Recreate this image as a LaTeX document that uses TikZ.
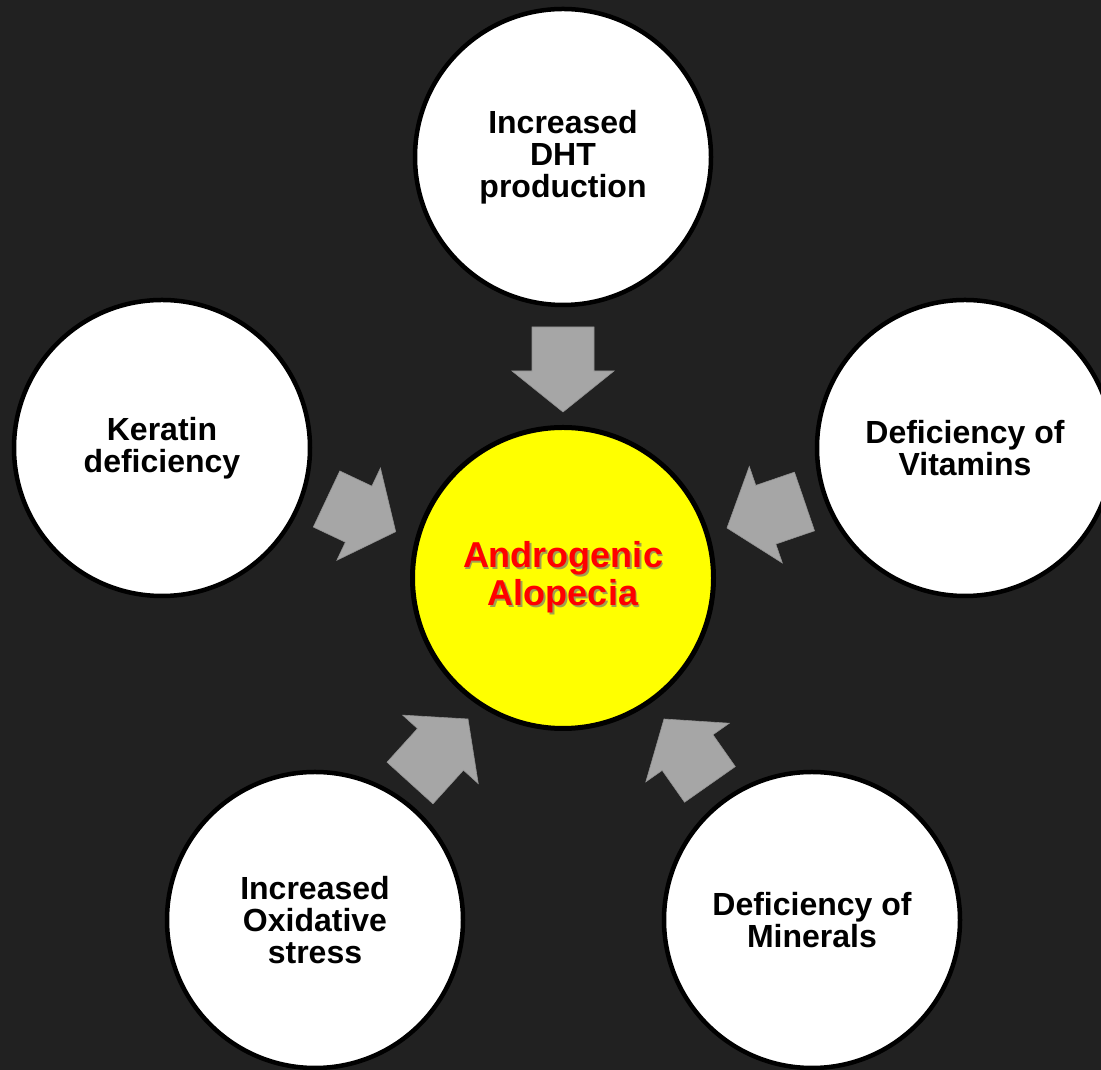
\documentclass[tikz,border=0pt]{standalone}
\usepackage{fontspec}
\setmainfont{Liberation Sans}
\usetikzlibrary{calc}
\definecolor{bgdark}{HTML}{212121}
\definecolor{arrowgray}{HTML}{A6A6A6}
\definecolor{coreyellow}{HTML}{FFFF00}
\definecolor{titlered}{HTML}{FF0000}
\definecolor{titleshadow}{HTML}{A0A050}
\tikzset{
  cause/.style={circle, draw=black, line width=4.5pt, fill=white, minimum size=296pt,
    inner sep=0pt, align=center, text=black, font=\fontsize{32}{32}\selectfont\bfseries},
  core/.style={circle, draw=black, line width=5pt, fill=coreyellow, minimum size=301pt,
    inner sep=0pt, align=center, text=titlered, font=\fontsize{36}{42}\selectfont\bfseries},
  blockarrow/.style={fill=arrowgray, draw=arrowgray!88!black, line width=0.6pt}
}
% red title with a small drop shadow
\newcommand{\shadowline}[1]{\makebox[0pt][l]{\hspace{1.8pt}\raisebox{-1.8pt}{\textcolor{titleshadow}{#1}}}#1}
% block arrow from #1 (tail) to #2 (tip)
\newcommand{\pushto}[2]{
  \draw[blockarrow] let \p1=($(#2)-(#1)$), \n1={atan2(\y1,\x1)}, \n2={veclen(\x1,\y1)} in
    [shift={(#2)}, rotate=\n1] (0,0) -- (-41,51) -- (-41,31) -- (-\n2,31)
    -- (-\n2,-31) -- (-41,-31) -- (-41,-51) -- cycle;
}

\begin{document}
\begin{tikzpicture}[x=1pt, y=1pt]
  \fill[bgdark] (0,0) rectangle (1101,1070);
  \useasboundingbox (0,0) rectangle (1101,1070);

  \node[core] (core) at (563,492) {\raisebox{-4pt}{\shadowline{Androgenic}}\\\shadowline{Alopecia}};

  \node[cause] (dht) at (563,913) {Increased\\DHT\\production};
  \node[cause] (keratin) at (162,622) {Keratin\\deficiency};
  \node[cause] (vitamins) at (965,622) {Deficiency of\\Vitamins};
  \node[cause] (oxidative) at (315,150) {Increased\\Oxidative\\stress};
  \node[cause] (minerals) at (812,150) {Deficiency of\\Minerals};

  % arrow ends
  \coordinate (dht-tail) at (563,743);
  \coordinate (dht-tip) at (563,658);
  \coordinate (vit-tail) at (804.5,568.5);
  \coordinate (vit-tip) at (727,542);
  \coordinate (min-tail) at (710,285.5);
  \coordinate (min-tip) at (664,351);
  \coordinate (ox-tail) at (410,287);
  \coordinate (ox-tip) at (468,351);
  \coordinate (ker-tail) at (326.5,571);
  \coordinate (ker-tip) at (395.7,538.3);

  \pushto{dht-tail}{dht-tip}
  \pushto{vit-tail}{vit-tip}
  \pushto{min-tail}{min-tip}
  \pushto{ox-tail}{ox-tip}
  \pushto{ker-tail}{ker-tip}
\end{tikzpicture}
\end{document}
